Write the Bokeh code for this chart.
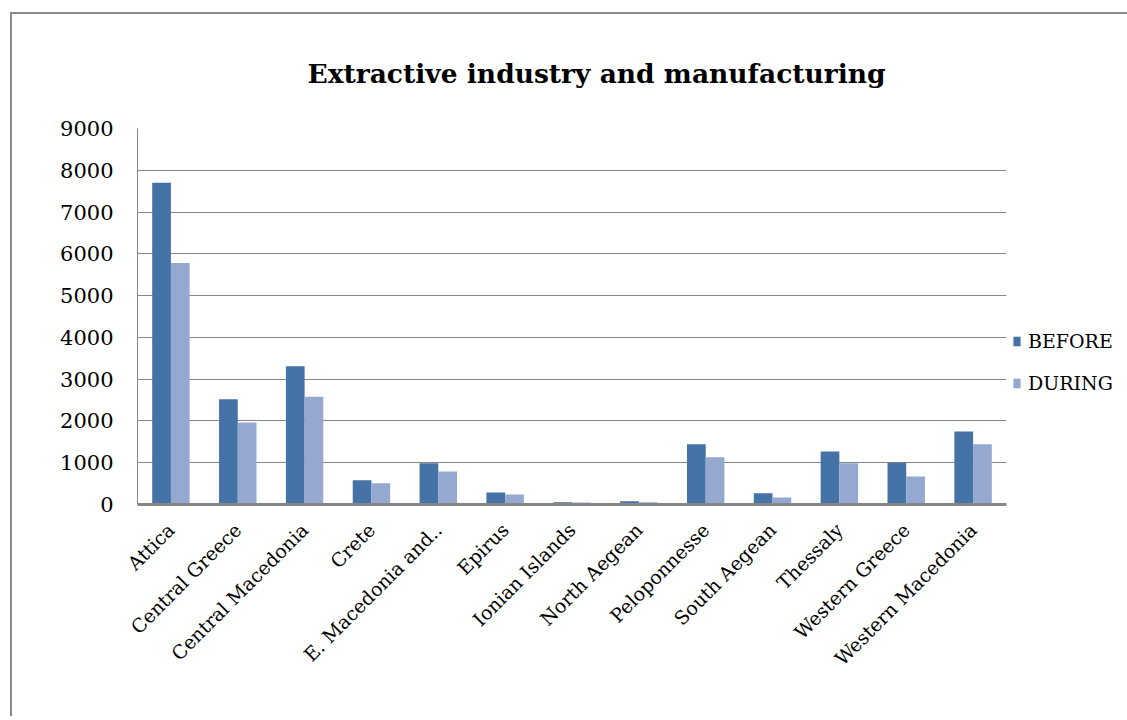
from bokeh.plotting import figure
from bokeh.models import (ColumnDataSource, FactorRange, SingleIntervalTicker, Legend,
                          LegendItem)
from bokeh.transform import dodge
from bokeh.embed import file_html
from bokeh.resources import INLINE
import math

title_text = "Extractive industry and manufacturing"
regions = ["Attica", "Central Greece", "Central Macedonia", "Crete", "E. Macedonia and..",
           "Epirus", "Ionian Islands", "North Aegean", "Peloponnesse", "South Aegean",
           "Thessaly", "Western Greece", "Western Macedonia"]
before = [7700, 2520, 3310, 580, 990, 290, 55, 80, 1440, 270, 1270, 1000, 1750]
during = [5780, 1960, 2580, 510, 790, 240, 50, 55, 1130, 170, 990, 670, 1440]
series_names = ["BEFORE", "DURING"]
y_max = 9000
y_step = 1000

FONT = "DejaVu Serif"
C_BEFORE = "#4572A7"
C_DURING = "#95A9D0"
GRID = "#878787"

source = ColumnDataSource(dict(region=regions, before=before, during=during))

p = figure(x_range=FactorRange(*regions, range_padding=0), y_range=(0, y_max),
           frame_width=869, frame_height=376, output_backend="svg", toolbar_location=None,
           min_border_left=125, min_border_right=116, min_border_top=114,
           min_border_bottom=212)
p.styles = {"margin-left": "10px", "margin-top": "12px",
            "border-left": "2px solid #8a8a8a", "border-top": "2px solid #8a8a8a"}
p.outline_line_color = None
p.background_fill_color = "white"
p.border_fill_color = "white"

p.title.text = title_text
p.title.text_font = FONT
p.title.text_font_style = "bold"
p.title.text_font_size = "26.5px"
p.title.text_color = "black"
p.title.align = "left"
p.title.offset = 170
p.title.vertical_align = "middle"
p.title.standoff = 78

r1 = p.vbar(x=dodge("region", -0.14, range=p.x_range), top="before", width=0.28,
            source=source, fill_color=C_BEFORE, line_color=None)
r2 = p.vbar(x=dodge("region", 0.14, range=p.x_range), top="during", width=0.28,
            source=source, fill_color=C_DURING, line_color=None)

p.xgrid.grid_line_color = None
p.ygrid.grid_line_color = GRID
p.ygrid.grid_line_width = 1
p.yaxis.ticker = SingleIntervalTicker(interval=y_step)
p.yaxis.major_tick_line_color = None
p.yaxis.minor_tick_line_color = None
p.yaxis.major_tick_out = 0
p.yaxis.minor_tick_out = 0
p.yaxis.axis_line_color = GRID
p.yaxis.major_label_text_font = FONT
p.yaxis.major_label_text_font_size = "21px"
p.yaxis.major_label_text_color = "black"
p.yaxis.major_label_standoff = 24

p.xaxis.axis_line_color = GRID
p.xaxis.axis_line_width = 3
p.xaxis.major_tick_line_color = None
p.xaxis.minor_tick_line_color = None
p.xaxis.major_tick_out = 0
p.xaxis.minor_tick_out = 0
p.xaxis.major_label_orientation = math.pi / 4
p.xaxis.major_label_text_font = FONT
p.xaxis.major_label_text_font_size = "19px"
p.xaxis.major_label_text_color = "black"
p.xaxis.major_label_standoff = 22

legend = Legend(items=[LegendItem(label=series_names[0], renderers=[r1]),
                       LegendItem(label=series_names[1], renderers=[r2])],
                location=(6, 110), orientation="vertical")
legend.background_fill_alpha = 0
legend.border_line_color = None
legend.glyph_width = 9
legend.glyph_height = 12
legend.label_height = 20
legend.label_standoff = 7
legend.spacing = 20
legend.padding = 0
legend.margin = 0
legend.label_text_font = FONT
legend.label_text_font_size = "19px"
legend.label_text_color = "black"
p.add_layout(legend, "right")

open("out.html", "w").write(file_html(p, INLINE))
